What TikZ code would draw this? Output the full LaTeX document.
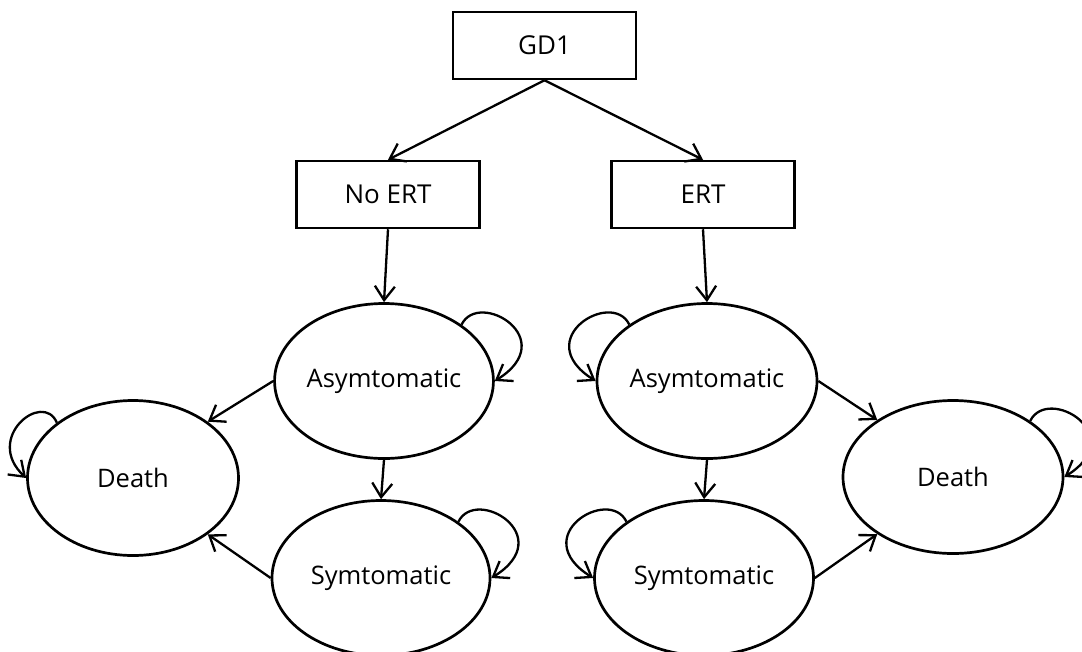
\documentclass[tikz,border=0pt]{standalone}
\usepackage{fontspec}
\setmainfont{Open Sans}
\usetikzlibrary{shapes.geometric,arrows.meta,calc}
\begin{document}
\begin{tikzpicture}[x=1pt,y=-1pt,
  box/.style={draw,line width=2.5pt,rectangle,minimum width=183pt,minimum height=67pt,inner sep=0pt,font=\fontsize{26}{30}\selectfont},
  state/.style={draw,line width=2.7pt,ellipse,minimum width=218pt,minimum height=155pt,inner sep=0pt,font=\fontsize{25.5}{30}\selectfont},
  arr/.style={line width=2.3pt,-{Straight Barb[length=14pt,width=20pt,line width=2.3pt]}}]
\useasboundingbox (0,0) rectangle (1082,651);
\node[box] (gd) at (544.5,45.5) {GD1};
\node[box] (noert) at (388,194.5) {No ERT};
\node[box] (ert) at (703,194.5) {ERT};
\node[state] (asL) at (384,381) {Asymtomatic};
\node[state] (syL) at (381,578) {Symtomatic};
\node[state,minimum width=211pt] (deL) at (133,478) {Death};
\node[state,minimum width=220pt] (asR) at (707,381) {Asymtomatic};
\node[state,minimum width=219pt] (syR) at (704,578) {Symtomatic};
\node[state,minimum width=220pt,minimum height=153pt] (deR) at (953,477) {Death};

\draw[arr] (gd.south) -- (noert.north);
\draw[arr] (gd.south) -- (ert.north);
\draw[arr] (noert.south) -- (asL.north);
\draw[arr] (ert.south) -- (asR.north);
\draw[arr] (asL.south) -- (syL.north);
\draw[arr] (asR.south) -- (syR.north);
\draw[arr] (asL.west) -- (deL.37);
\draw[arr] (syL.west) -- (deL.-37);
\draw[arr] (asR.east) -- (deR.143);
\draw[arr] (syR.east) -- (deR.-143);

% self loops
\draw[arr] (asL.36) .. controls ($(asL.center)+(95,-92)$) and ($(asL.center)+(178,-42)$) .. (asL.east);
\draw[arr] (syL.36) .. controls ($(syL.center)+(95,-92)$) and ($(syL.center)+(178,-42)$) .. (syL.east);
\draw[arr] (deR.36) .. controls ($(deR.center)+(95,-92)$) and ($(deR.center)+(178,-42)$) .. (deR.east);
\draw[arr] (asR.144) .. controls ($(asR.center)+(-95,-92)$) and ($(asR.center)+(-178,-42)$) .. (asR.west);
\draw[arr] (syR.144) .. controls ($(syR.center)+(-95,-92)$) and ($(syR.center)+(-178,-42)$) .. (syR.west);
\draw[arr] (deL.144) .. controls ($(deL.center)+(-90,-88)$) and ($(deL.center)+(-150,-40)$) .. (deL.west);
\end{tikzpicture}
\end{document}
